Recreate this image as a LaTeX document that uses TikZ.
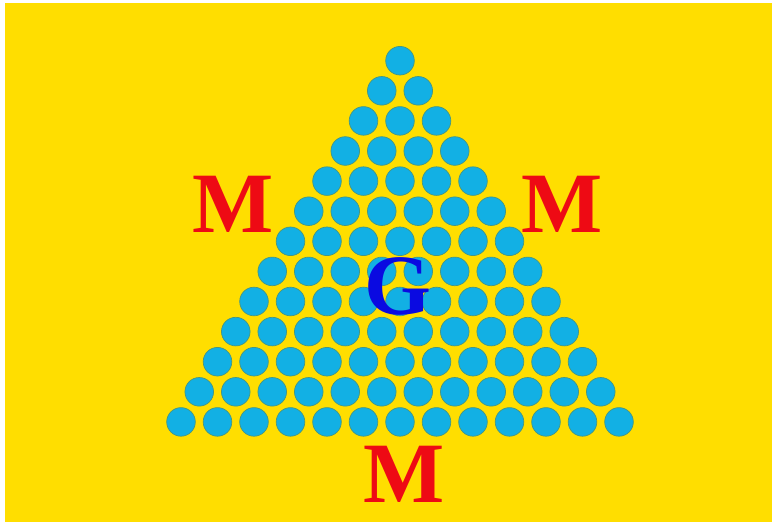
\documentclass[tikz,border=0pt]{standalone}
\usepackage{fontspec}
\setmainfont{Liberation Serif}
\usepackage{xcolor}
\definecolor{FlagYellow}{RGB}{255,222,0}
\definecolor{BeadBlue}{RGB}{18,176,228}
\definecolor{BeadRim}{RGB}{70,150,130}
\definecolor{LetterRed}{RGB}{238,10,20}
\definecolor{LetterBlue}{RGB}{10,10,225}

\begin{document}
\begin{tikzpicture}[x=1pt,y=-1pt,
bead/.style={fill=BeadBlue,draw=BeadRim,line width=0.7pt},
letter/.style={anchor=base,inner sep=0pt,font=\fontsize{86}{86}\selectfont\bfseries}
]
\useasboundingbox (0,0) rectangle (773,525);
\fill[white] (0,0) rectangle (773,525);
\fill[FlagYellow] (5,3) rectangle (772,522);
% triangle of beads, 13 rows
\foreach \r in {0,...,12}
  \foreach \c in {0,...,\r}
    \draw[bead] ({400+(\c-\r/2)*36.5},{60.7+\r*30.1}) circle[radius=14.3];
\node[letter,text=LetterRed] (mleft) at (233,232) {M};
\node[letter,text=LetterRed] (mright) at (562,232) {M};
\node[letter,text=LetterRed] (mbottom) at (404.5,502) {M};
\node[letter,text=LetterBlue] (g) at (397.5,314) {G};
\end{tikzpicture}
\end{document}
